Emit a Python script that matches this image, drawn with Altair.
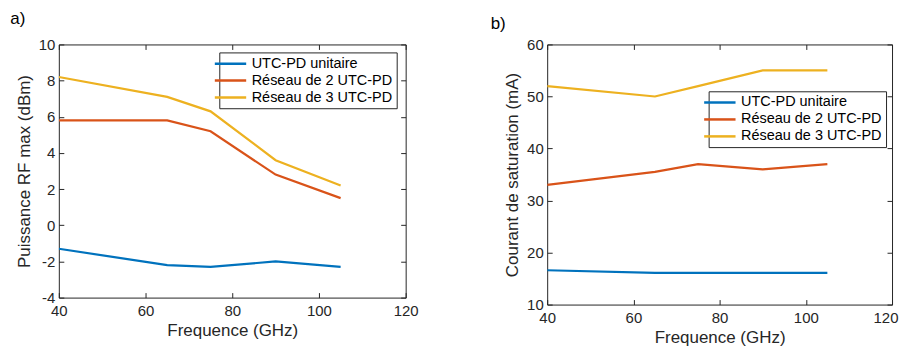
import altair as alt
import pandas as pd

freq = [40, 65, 75, 90, 105]
series = ["UTC-PD unitaire", "Réseau de 2 UTC-PD", "Réseau de 3 UTC-PD"]
colors = ["#0072BD", "#D95319", "#EDB120"]

# panel a) Puissance RF max (dBm)
p_unitaire = [-1.3, -2.2, -2.3, -2.0, -2.3]
p_res2 = [5.8, 5.8, 5.2, 2.8, 1.5]
p_res3 = [8.2, 7.1, 6.3, 3.6, 2.2]

# panel b) Courant de saturation (mA)
i_unitaire = [16.6, 16.1, 16.1, 16.1, 16.1]
i_res2 = [33, 35.5, 37, 36, 37]
i_res3 = [52, 50, 52, 55, 55]

x_ticks = [40, 60, 80, 100, 120]
ya_ticks = [-4, -2, 0, 2, 4, 6, 8, 10]
yb_ticks = [10, 20, 30, 40, 50, 60]

FONT = "Liberation Sans"
INK = "#262626"
HYPHEN = "replace(datum.label, '\u2212', '-')"


def long_df(a, b, c):
    rows = []
    for name, vals in zip(series, [a, b, c]):
        for f, v in zip(freq, vals):
            rows.append({"freq": f, "val": v, "serie": name})
    return pd.DataFrame(rows)


def panel(df, ytitle, ydom, yticks, W, H, lx, ly, label, label_dx, label_off, keep_inside):
    xs = alt.Scale(domain=[40, 120], nice=False, zero=False)
    ys = alt.Scale(domain=ydom, nice=False, zero=False)
    base = alt.Chart(df)
    xaxis_extra = {}
    if keep_inside:
        # keep the last x label inside the page (avoids horizontal overflow)
        xaxis_extra = dict(
            labelAlign={"condition": {"test": "datum.value == 120", "value": "right"},
                        "value": "center"},
            labelOffset={"condition": {"test": "datum.value == 120", "value": 6},
                         "value": 0},
        )
    lines = base.mark_line(strokeWidth=2.2, clip=True).encode(
        x=alt.X("freq:Q", scale=xs,
                axis=alt.Axis(values=x_ticks, title="Frequence (GHz)", tickSize=0,
                              labelFlush=False, labelOverlap=False,
                              domain=False, grid=False, labelPadding=6, titlePadding=4,
                              **xaxis_extra)),
        y=alt.Y("val:Q", scale=ys,
                axis=alt.Axis(values=yticks, title=ytitle, tickSize=0, labelExpr=HYPHEN,
                              labelFlush=False, labelOverlap=False,
                              domain=False, grid=False, labelPadding=4, titlePadding=5)),
        color=alt.Color("serie:N", sort=series,
                        scale=alt.Scale(domain=series, range=colors),
                        legend=alt.Legend(orient="none", legendX=lx, legendY=ly, title=None,
                                          strokeColor=INK, fillColor="white",
                                          symbolType="M-3,0H3", symbolSize=110,
                                          symbolStrokeWidth=2.5, labelFontSize=14.5,
                                          labelFont=FONT, labelColor="black",
                                          labelOffset=14, rowPadding=2, padding=4)),
        order=alt.Order("freq:Q"),
    )
    ticks_in1 = base.mark_point(opacity=0).encode(
        x=alt.X("freq:Q", scale=xs,
                axis=alt.Axis(orient="top", offset=-H, values=x_ticks, labels=False,
                              title=None, tickSize=5, domain=False, grid=False)),
        y=alt.Y("val:Q", scale=ys,
                axis=alt.Axis(orient="right", offset=-W, values=yticks, labels=False,
                              title=None, tickSize=5, domain=False, grid=False)),
    )
    ticks_in2 = base.mark_point(opacity=0).encode(
        x=alt.X("freq:Q", scale=xs,
                axis=alt.Axis(orient="bottom", offset=-H, values=x_ticks, labels=False,
                              title=None, tickSize=5, domain=False, grid=False)),
        y=alt.Y("val:Q", scale=ys,
                axis=alt.Axis(orient="left", offset=-W, values=yticks, labels=False,
                              title=None, tickSize=5, domain=False, grid=False)),
    )
    return alt.layer(lines, ticks_in1, ticks_in2).resolve_axis(
        x="independent", y="independent"
    ).properties(
        width=W, height=H,
        title=alt.TitleParams(text=label, anchor="start", frame="bounds", fontSize=17,
                              fontWeight="normal", font=FONT, color="black", dx=label_dx,
                              offset=label_off),
    )


chart_a = panel(long_df(p_unitaire, p_res2, p_res3), "Puissance RF max (dBm)",
                [-4, 10], ya_ticks, 348, 254, 161, 8, "a)", -5, 10, False)
chart_b = panel(long_df(i_unitaire, i_res2, i_res3), "Courant de saturation (mA)",
                [10, 60], yb_ticks, 346, 261, 162, 47, "b)", -13, 5, True)

chart = alt.hconcat(chart_a, chart_b, spacing=70).resolve_scale(
    color="independent"
).resolve_legend(
    color="independent"
).configure(
    padding={"left": 1, "top": 0, "right": 0, "bottom": 0},
    font=FONT,
).configure_view(
    stroke=INK, strokeWidth=1
).configure_axis(
    labelFont=FONT, labelFontSize=15, labelColor=INK, tickColor=INK,
    titleFont=FONT, titleFontSize=17, titleFontWeight="normal", titleColor=INK,
)

chart.save("out.html", embed_options={"renderer": "svg", "actions": False})
